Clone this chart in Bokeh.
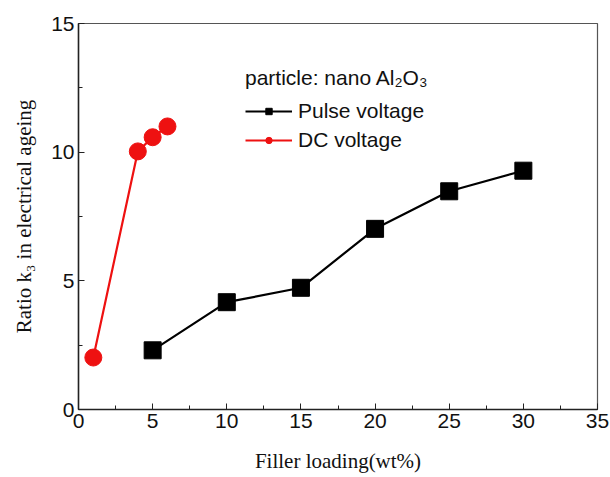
from bokeh.plotting import figure
from bokeh.models import Range1d, SingleIntervalTicker, Legend, LegendItem
from bokeh.embed import file_html
from bokeh.resources import INLINE

# data
pulse_x = [5, 10, 15, 20, 25, 30]
pulse_y = [2.3, 4.17, 4.73, 7.02, 8.48, 9.28]
dc_x = [1, 4, 5, 6]
dc_y = [2.02, 10.03, 10.58, 11.0]

legend_title = "particle: nano Al₂O₃"
pulse_label = "Pulse voltage"
dc_label = "DC voltage"
x_label = "Filler loading(wt%)"
y_label = "Ratio k₃ in electrical ageing"

p = figure(width=610, height=477, output_backend="svg", toolbar_location=None,
           x_range=Range1d(0, 35), y_range=Range1d(0, 15),
           min_border_left=78, min_border_right=13, min_border_top=23, min_border_bottom=68)
p.background_fill_color = "white"
p.border_fill_color = "white"
p.grid.visible = False
p.outline_line_color = "#555555"
p.outline_line_width = 1.2

for ax in (p.xaxis[0], p.yaxis[0]):
    ax.ticker = SingleIntervalTicker(interval=5, num_minor_ticks=2)
    ax.axis_line_color = "#222222"
    ax.axis_line_width = 1.5
    ax.major_tick_in = 6
    ax.major_tick_out = 0
    ax.minor_tick_in = 4
    ax.minor_tick_out = 0
    ax.major_tick_line_color = "#222222"
    ax.minor_tick_line_color = "#222222"
    ax.major_label_text_font = "Liberation Sans"
    ax.major_label_text_font_size = "21px"
    ax.major_label_text_color = "#111111"
    ax.axis_label_text_font = "Liberation Serif"
    ax.axis_label_text_font_size = "21px"
    ax.axis_label_text_font_style = "normal"
    ax.axis_label_text_color = "#111111"

p.xaxis.axis_label = x_label
p.yaxis.axis_label = y_label
p.xaxis.major_label_standoff = 4
p.yaxis.major_label_standoff = 4
p.xaxis.axis_label_standoff = 18
p.yaxis.axis_label_standoff = 12

pl = p.line(pulse_x, pulse_y, line_color="black", line_width=2.2)
ps = p.scatter(pulse_x, pulse_y, marker="square", size=17, fill_color="black", line_color="black")
dl = p.line(dc_x, dc_y, line_color="#ee1111", line_width=2.2)
ds = p.scatter(dc_x, dc_y, marker="circle", size=17, fill_color="#ee1111", line_color="#ee1111")

legend = Legend(items=[LegendItem(label=pulse_label, renderers=[pl, ps]),
                       LegendItem(label=dc_label, renderers=[dl, ds])],
                location=(167, 257), title=legend_title)
legend.title_text_font = "Liberation Sans"
legend.title_text_font_size = "21px"
legend.title_text_font_style = "normal"
legend.title_text_color = "#111111"
legend.title_standoff = 9
legend.label_text_font = "Liberation Sans"
legend.label_text_font_size = "21px"
legend.label_text_color = "#111111"
legend.glyph_width = 47
legend.glyph_height = 16
legend.label_height = 22
legend.label_standoff = 6
legend.spacing = 5
legend.padding = 0
legend.margin = 0
legend.border_line_color = None
legend.background_fill_alpha = 0
p.add_layout(legend)

open("out.html", "w").write(file_html(p, INLINE))
